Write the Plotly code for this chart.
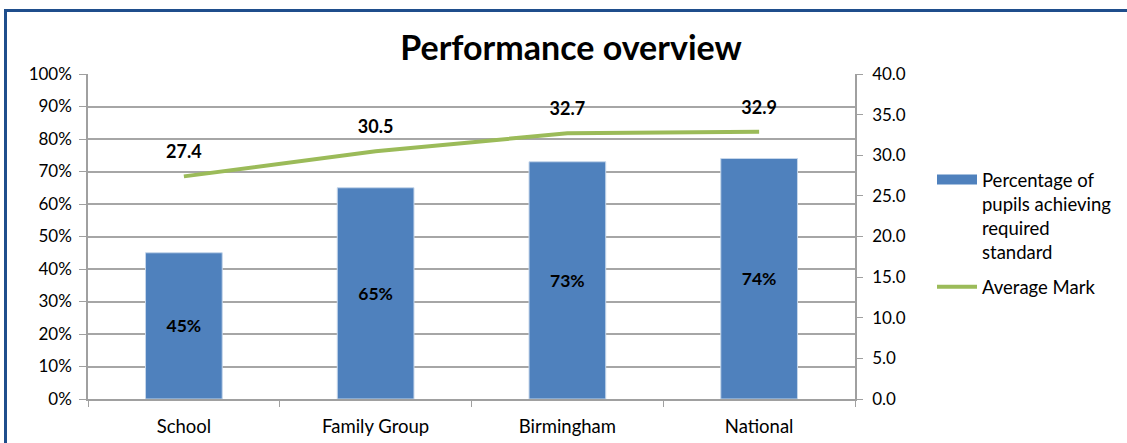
import plotly.graph_objects as go

categories = ["School", "Family Group", "Birmingham", "National"]
pct_achieving = [0.45, 0.65, 0.73, 0.74]
avg_mark = [27.4, 30.5, 32.7, 32.9]
bar_name = "Percentage of<br>pupils achieving<br>required<br>standard"
line_name = "Average Mark"
title = "Performance overview"

W, H = 1127, 443
L, R, T, B = 88, 855, 74, 399

FONT = "Lato"
BLUE = "#4F81BD"
GREEN = "#9BBB59"

fig = go.Figure()
fig.add_trace(go.Bar(
    x=categories, y=pct_achieving, name=bar_name, showlegend=False,
    marker=dict(color=BLUE, line=dict(color="#c5d6ea", width=1)),
    text=[f"{v:.0%}" for v in pct_achieving], textposition="inside",
    insidetextanchor="middle",
    textfont=dict(family=FONT, size=17.5, color="black", weight="bold"),
    yaxis="y",
))
# legend entry for the bars (wide rectangle swatch as in the original)
fig.add_trace(go.Scatter(
    x=[None], y=[None], name=bar_name, mode="lines", legendgroup="a",
    line=dict(color=BLUE, width=10), yaxis="y",
))
fig.add_trace(go.Scatter(
    x=categories, y=avg_mark, name=line_name, mode="lines", legendgroup="b",
    line=dict(color=GREEN, width=4), yaxis="y2",
))
fig.add_trace(go.Scatter(
    x=categories, y=avg_mark, mode="markers+text", showlegend=False,
    marker=dict(size=20, color="rgba(0,0,0,0)"),
    text=[f"{v:.1f}" for v in avg_mark], textposition="top center",
    textfont=dict(family=FONT, size=18, color="black", weight="bold"),
    hoverinfo="skip", yaxis="y2",
))

def px_x(p):
    return (p - L) / (R - L)

def px_y(p):
    return (B - p) / (B - T)

fig.add_shape(type="rect", xref="paper", yref="paper",
              x0=px_x(5.5), x1=px_x(1140), y0=px_y(460), y1=px_y(10.5),
              line=dict(color="#1f4e8c", width=3), fillcolor="rgba(0,0,0,0)", layer="below")

fig.update_layout(
    width=W, height=H,
    margin=dict(l=L, r=W - R, t=T, b=H - B, autoexpand=False),
    paper_bgcolor="white", plot_bgcolor="white",
    font=dict(family=FONT, size=16, color="black"),
    title=dict(text=f"<b>{title}</b>", x=571 / W, xanchor="center",
               y=1 - 48 / H, yanchor="middle",
               font=dict(family=FONT, size=34, color="black")),
    bargap=0.6,
    showlegend=True,
    legend=dict(x=px_x(932), y=px_y(161), xanchor="left", yanchor="top",
                valign="top",
                font=dict(family=FONT, size=18.5, color="black"),
                bgcolor="rgba(0,0,0,0)", tracegroupgap=8, itemwidth=40),
    xaxis=dict(
        type="category", showline=True, linecolor="#a0a0a0", linewidth=1.5,
        ticks="outside", tickson="boundaries", ticklen=6, tickcolor="#a0a0a0",
        showgrid=False, tickfont=dict(family=FONT, size=18.5),
        ticklabelstandoff=10, automargin=False,
    ),
    yaxis=dict(
        range=[0, 1], dtick=0.1, tickformat=".0%",
        showline=True, linecolor="#a0a0a0", linewidth=1.5,
        ticks="outside", ticklen=7, tickcolor="#a0a0a0",
        showgrid=True, gridcolor="#a6a6a6", gridwidth=1.5,
        zeroline=False, tickfont=dict(family=FONT, size=17),
        ticklabelstandoff=4, automargin=False,
    ),
    yaxis2=dict(
        range=[0, 40], dtick=5, tickformat=".1f", overlaying="y", side="right",
        showline=True, linecolor="#a0a0a0", linewidth=1.5,
        ticks="outside", ticklen=6, tickcolor="#a0a0a0",
        showgrid=False, zeroline=False, tickfont=dict(family=FONT, size=17),
        ticklabelstandoff=6, automargin=False,
    ),
)

fig.write_html("out.html", config={"displayModeBar": False},
               post_script="document.body.style.margin='0';")
